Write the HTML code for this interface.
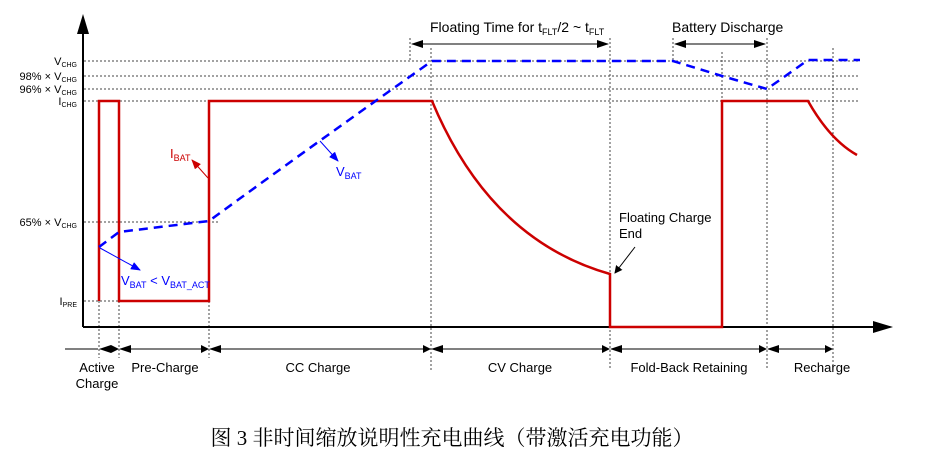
<!DOCTYPE html>
<html><head><meta charset="utf-8"><style>
body{margin:0;background:#fff;}
svg text{font-family:"Liberation Sans",Arial,sans-serif;}
</style></head><body>
<svg width="951" height="456" viewBox="0 0 951 456" xmlns="http://www.w3.org/2000/svg">
<defs>
<marker id="ab" markerWidth="8" markerHeight="8" refX="7" refY="4" orient="auto" markerUnits="userSpaceOnUse"><path d="M0,0 L8,4 L0,8 Z" fill="#000"/></marker>
<marker id="ar" markerWidth="10" markerHeight="8" refX="9" refY="4" orient="auto" markerUnits="userSpaceOnUse"><path d="M0,0 L10,4 L0,8 Z" fill="#c00"/></marker>
<marker id="au" markerWidth="10" markerHeight="8" refX="9" refY="4" orient="auto" markerUnits="userSpaceOnUse"><path d="M0,0 L10,4 L0,8 Z" fill="#00f"/></marker>
<marker id="ak" markerWidth="12" markerHeight="8" refX="11" refY="4" orient="auto" markerUnits="userSpaceOnUse"><path d="M0,0 L12,4 L0,8 Z" fill="#000"/></marker>
<marker id="aks" markerWidth="12" markerHeight="8" refX="1" refY="4" orient="auto" markerUnits="userSpaceOnUse"><path d="M12,0 L0,4 L12,8 Z" fill="#000"/></marker>
</defs>
<g stroke="#444" stroke-width="1" stroke-dasharray="2,2" fill="none">
<line x1="84" y1="61" x2="860" y2="61"/>
<line x1="84" y1="76" x2="860" y2="76"/>
<line x1="84" y1="89" x2="860" y2="89"/>
<line x1="84" y1="101" x2="860" y2="101"/>
<line x1="84" y1="222" x2="220" y2="222"/>
<line x1="84" y1="301" x2="119" y2="301"/>
<line x1="99" y1="301" x2="99" y2="358"/>
<line x1="119" y1="301" x2="119" y2="358"/>
<line x1="209" y1="301" x2="209" y2="358"/>
<line x1="431" y1="48" x2="431" y2="370"/>
<line x1="410" y1="38" x2="410" y2="61"/>
<line x1="610" y1="38" x2="610" y2="370"/>
<line x1="673" y1="38" x2="673" y2="61"/>
<line x1="722" y1="52" x2="722" y2="101"/>
<line x1="767" y1="38" x2="767" y2="370"/>
<line x1="833" y1="48" x2="833" y2="370"/>
</g>
<line x1="83" y1="327" x2="83" y2="22" stroke="#000" stroke-width="2"/>
<path d="M77,34 L83,14 L89,34 Z" fill="#000"/>
<line x1="83" y1="327" x2="880" y2="327" stroke="#000" stroke-width="2"/>
<path d="M873,321 L893,327 L873,333 Z" fill="#000"/>
<line x1="412" y1="44" x2="608" y2="44" stroke="#000" marker-end="url(#ak)" marker-start="url(#aks)"/>
<line x1="675" y1="44" x2="765" y2="44" stroke="#000" marker-end="url(#ak)" marker-start="url(#aks)"/>
<text x="430" y="32" font-size="14">Floating Time for t<tspan font-size="9" dy="3">FLT</tspan><tspan dy="-3">/2 ~ t</tspan><tspan font-size="9" dy="3">FLT</tspan></text>
<text x="672" y="32" font-size="14">Battery Discharge</text>
<g stroke="#000" stroke-width="1">
<line x1="100" y1="349" x2="118" y2="349" marker-end="url(#ab)" marker-start="url(#aks)"/>
<line x1="120" y1="349" x2="208" y2="349" marker-end="url(#ab)" marker-start="url(#aks)"/>
<line x1="210" y1="349" x2="430" y2="349" marker-end="url(#ab)" marker-start="url(#aks)"/>
<line x1="432" y1="349" x2="609" y2="349" marker-end="url(#ab)" marker-start="url(#aks)"/>
<line x1="611" y1="349" x2="766" y2="349" marker-end="url(#ab)" marker-start="url(#aks)"/>
<line x1="768" y1="349" x2="832" y2="349" marker-end="url(#ab)" marker-start="url(#aks)"/>
<line x1="65" y1="349" x2="98" y2="349"/>
</g>
<g font-size="13" fill="#000" text-anchor="middle">
<text x="97" y="372">Active</text><text x="97" y="388">Charge</text>
<text x="165" y="372">Pre-Charge</text>
<text x="318" y="372">CC Charge</text>
<text x="520" y="372">CV  Charge</text>
<text x="689" y="372">Fold-Back Retaining</text>
<text x="822" y="372">Recharge</text>
</g>
<g font-size="11" fill="#000" text-anchor="end">
<text x="77" y="65">V<tspan font-size="7" dy="2">CHG</tspan></text>
<text x="77" y="80">98% × V<tspan font-size="7" dy="2">CHG</tspan></text>
<text x="77" y="93">96% × V<tspan font-size="7" dy="2">CHG</tspan></text>
<text x="77" y="105">I<tspan font-size="7" dy="2">CHG</tspan></text>
<text x="77" y="226">65% × V<tspan font-size="7" dy="2">CHG</tspan></text>
<text x="77" y="305">I<tspan font-size="7" dy="2">PRE</tspan></text>
</g>
<path d="M99,301 L99,101 L119,101 L119,301 L209,301 L209,101 L432,101 Q490,240 610,274 L610,327 L722,327 L722,101 L808,101 Q830,140 857,155" fill="none" stroke="#c00" stroke-width="2.5"/>
<path d="M99,247 L119,232 L209,221 Q320,140 432,61 L673,61 L722,76 L767,89 L808,60 L860,60" fill="none" stroke="#00f" stroke-width="2.5" stroke-dasharray="9,6"/>
<line x1="208" y1="178" x2="192" y2="160" stroke="#c00" stroke-width="1" marker-end="url(#ar)"/>
<text x="170" y="158" font-size="13" fill="#c00">I<tspan font-size="9" dy="3">BAT</tspan></text>
<line x1="320" y1="141" x2="338" y2="161" stroke="#00f" stroke-width="1" marker-end="url(#au)"/>
<text x="336" y="176" font-size="13" fill="#00f">V<tspan font-size="9" dy="3">BAT</tspan></text>
<line x1="100" y1="248" x2="140" y2="270" stroke="#00f" stroke-width="1" marker-end="url(#au)"/>
<text x="121" y="285" font-size="13" fill="#00f">V<tspan font-size="9" dy="3">BAT</tspan><tspan dy="-3"> &lt; V</tspan><tspan font-size="9" dy="3">BAT_ACT</tspan></text>
<text x="619" y="222" font-size="13" fill="#000">Floating Charge</text>
<text x="619" y="238" font-size="13" fill="#000">End</text>
<line x1="635" y1="247" x2="615" y2="273" stroke="#000" stroke-width="1" marker-end="url(#ab)"/>
<text x="452" y="445" font-size="21" fill="#000" text-anchor="middle" style="font-family:'Liberation Serif','Noto Serif CJK SC',serif">图 3  非时间缩放说明性充电曲线（带激活充电功能）</text>
</svg>
</body></html>
